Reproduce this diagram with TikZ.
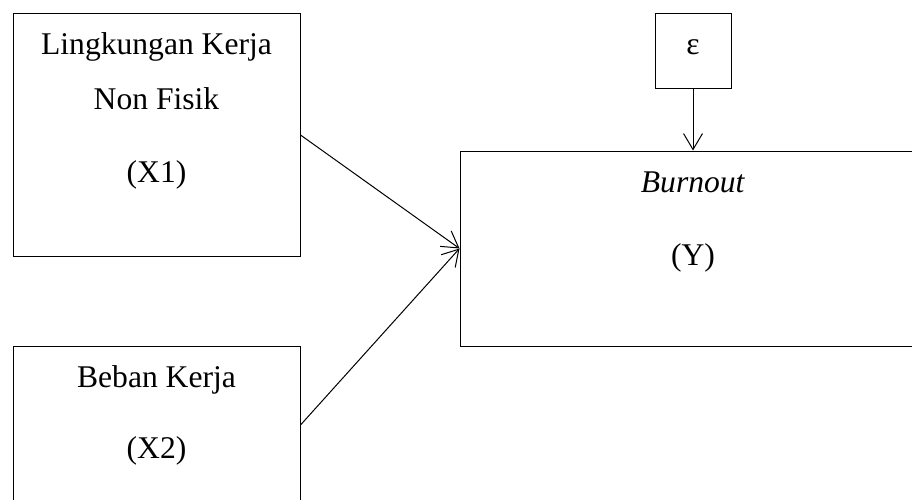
\documentclass[tikz,border=0pt]{standalone}
\usepackage{fontspec}
\setmainfont{Liberation Serif}
\usetikzlibrary{arrows.meta}
\tikzset{
  box/.style={draw, line width=1pt, rectangle, inner sep=0pt},
  txt/.style={anchor=base, inner sep=0pt, font=\fontsize{31.6}{38}\selectfont},
  arr/.style={line width=1pt, -{Straight Barb[length=16pt,width=19pt,line width=1pt]}}
}
\begin{document}
\begin{tikzpicture}[x=1pt,y=-1pt]
\clip (0,0) rectangle (912,500);
\fill[white] (0,0) rectangle (912,500);
\node[box, minimum width=287pt, minimum height=242pt] (x1) at (156.5,135) {};
\node[box, minimum width=287pt, minimum height=158pt] (x2) at (156.5,425) {};
\node[box, minimum width=76pt, minimum height=75pt] (eps) at (693,51.5) {};
\node[box, minimum width=466pt, minimum height=195pt] (y) at (693,248.5) {};
\node[txt] (t1) at (156.5,55) {Lingkungan Kerja};
\node[txt] (t2) at (156.5,110) {Non Fisik};
\node[txt] (t3) at (156.5,182) {(X1)};
\node[txt] (t4) at (156.5,387) {Beban Kerja};
\node[txt] (t5) at (156.5,458) {(X2)};
\node[txt] (t6) at (693,55) {ε};
\node[txt] (t7) at (693,192) {\textit{Burnout}};
\node[txt] (t8) at (693,265) {(Y)};
\draw[arr] (x1.east) -- (y.west);
\draw[arr] (x2.east) -- (y.west);
\draw[arr] (eps.south) -- (y.north);
\end{tikzpicture}
\end{document}
